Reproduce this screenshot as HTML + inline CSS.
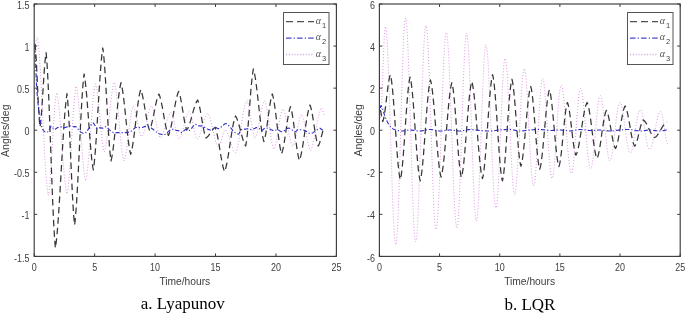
<!DOCTYPE html>
<html><head><meta charset="utf-8"><style>
html,body{margin:0;padding:0;background:#fff;width:685px;height:314px;overflow:hidden}
svg{display:block;filter:blur(0.3px)}
</style></head><body>
<svg width="685" height="314" viewBox="0 0 685 314">
<rect width="685" height="314" fill="#fff"/>
<path d="M35.00,44.00 L35.55,42.83 L36.10,40.60 L36.65,38.37 L37.20,37.20 L37.70,39.60 L38.21,43.19 L38.71,47.94 L39.22,53.79 L39.72,60.65 L40.23,68.42 L40.73,76.99 L41.24,86.20 L41.74,95.92 L42.25,105.97 L42.75,116.20 L43.25,126.43 L43.76,136.48 L44.26,146.20 L44.77,155.41 L45.27,163.98 L45.78,171.75 L46.28,178.61 L46.79,184.46 L47.29,189.21 L47.80,192.80 L48.30,195.20 L48.82,192.86 L49.34,189.07 L49.86,183.91 L50.38,177.52 L50.89,170.08 L51.41,161.83 L51.93,153.01 L52.45,143.90 L52.97,134.79 L53.49,125.97 L54.01,117.72 L54.52,110.28 L55.04,103.89 L55.56,98.73 L56.08,94.94 L56.60,92.60 L57.12,94.34 L57.64,97.00 L58.16,100.55 L58.68,104.93 L59.20,110.07 L59.72,115.88 L60.24,122.23 L60.76,129.01 L61.28,136.08 L61.80,143.30 L62.32,150.52 L62.84,157.59 L63.36,164.37 L63.88,170.72 L64.40,176.53 L64.92,181.67 L65.44,186.05 L65.96,189.60 L66.48,192.26 L67.00,194.00 L67.51,191.88 L68.02,188.56 L68.53,184.07 L69.04,178.52 L69.56,172.03 L70.07,164.75 L70.58,156.85 L71.09,148.53 L71.60,140.00 L72.11,131.47 L72.62,123.15 L73.13,115.25 L73.64,107.97 L74.16,101.48 L74.67,95.93 L75.18,91.44 L75.69,88.12 L76.20,86.00 L76.72,87.86 L77.24,90.78 L77.77,94.72 L78.29,99.60 L78.81,105.30 L79.33,111.70 L79.86,118.64 L80.38,125.95 L80.90,133.45 L81.42,140.95 L81.94,148.26 L82.47,155.20 L82.99,161.60 L83.51,167.30 L84.03,172.18 L84.56,176.12 L85.08,179.04 L85.60,180.90 L86.12,179.13 L86.64,176.37 L87.16,172.68 L87.68,168.11 L88.21,162.76 L88.73,156.74 L89.25,150.17 L89.77,143.21 L90.29,136.00 L90.81,128.70 L91.33,121.49 L91.85,114.53 L92.37,107.96 L92.89,101.94 L93.42,96.59 L93.94,92.02 L94.46,88.33 L94.98,85.57 L95.50,83.80 L96.02,85.24 L96.54,87.53 L97.05,90.64 L97.57,94.49 L98.09,98.98 L98.61,103.99 L99.12,109.40 L99.64,115.04 L100.16,120.76 L100.68,126.40 L101.19,131.81 L101.71,136.82 L102.23,141.31 L102.75,145.16 L103.26,148.27 L103.78,150.56 L104.30,152.00 L104.82,150.72 L105.34,148.74 L105.86,146.07 L106.38,142.78 L106.91,138.92 L107.43,134.58 L107.95,129.85 L108.47,124.83 L108.99,119.63 L109.51,114.37 L110.03,109.17 L110.55,104.15 L111.07,99.42 L111.59,95.08 L112.12,91.22 L112.64,87.93 L113.16,85.26 L113.68,83.28 L114.20,82.00 L114.72,83.44 L115.23,85.68 L115.75,88.69 L116.26,92.40 L116.78,96.76 L117.29,101.66 L117.81,107.00 L118.33,112.67 L118.84,118.53 L119.36,124.47 L119.87,130.33 L120.39,136.00 L120.91,141.34 L121.42,146.24 L121.94,150.60 L122.45,154.31 L122.97,157.32 L123.48,159.56 L124.00,161.00 L124.51,159.92 L125.01,158.22 L125.52,155.94 L126.02,153.10 L126.53,149.79 L127.03,146.08 L127.54,142.05 L128.04,137.80 L128.55,133.45 L129.06,129.10 L129.56,124.85 L130.07,120.82 L130.57,117.11 L131.08,113.80 L131.58,110.96 L132.09,108.68 L132.59,106.98 L133.10,105.90 L133.61,106.55 L134.11,107.59 L134.62,109.00 L135.12,110.74 L135.63,112.78 L136.14,115.05 L136.64,117.50 L137.15,120.05 L137.65,122.65 L138.16,125.20 L138.66,127.65 L139.17,129.92 L139.68,131.96 L140.18,133.70 L140.69,135.11 L141.19,136.15 L141.70,136.80 L142.22,136.24 L142.73,135.36 L143.25,134.18 L143.76,132.73 L144.28,131.03 L144.79,129.11 L145.31,127.02 L145.83,124.80 L146.34,122.51 L146.86,120.19 L147.37,117.90 L147.89,115.68 L148.41,113.59 L148.92,111.67 L149.44,109.97 L149.95,108.52 L150.47,107.34 L150.98,106.46 L151.50,105.90 L152.02,106.57 L152.55,107.65 L153.07,109.11 L153.59,110.91 L154.12,113.02 L154.64,115.37 L155.16,117.91 L155.69,120.56 L156.21,123.24 L156.74,125.89 L157.26,128.43 L157.78,130.78 L158.31,132.89 L158.83,134.69 L159.35,136.15 L159.88,137.23 L160.40,137.90 L160.92,137.46 L161.44,136.79 L161.96,135.90 L162.48,134.80 L163.00,133.51 L163.52,132.05 L164.04,130.45 L164.56,128.74 L165.08,126.96 L165.60,125.15 L166.12,123.34 L166.64,121.56 L167.16,119.85 L167.68,118.25 L168.20,116.79 L168.72,115.50 L169.24,114.40 L169.76,113.51 L170.28,112.84 L170.80,112.40 L171.31,113.01 L171.83,113.99 L172.34,115.33 L172.85,116.98 L173.36,118.91 L173.88,121.05 L174.39,123.34 L174.90,125.70 L175.41,128.06 L175.93,130.35 L176.44,132.49 L176.95,134.42 L177.46,136.07 L177.97,137.41 L178.49,138.39 L179.00,139.00 L179.51,138.53 L180.02,137.81 L180.53,136.84 L181.04,135.66 L181.55,134.26 L182.06,132.69 L182.57,130.96 L183.08,129.12 L183.59,127.21 L184.10,125.25 L184.61,123.29 L185.12,121.38 L185.63,119.54 L186.14,117.81 L186.65,116.24 L187.16,114.84 L187.67,113.66 L188.18,112.69 L188.69,111.97 L189.20,111.50 L189.71,112.14 L190.21,113.17 L190.72,114.57 L191.22,116.31 L191.73,118.33 L192.24,120.57 L192.74,122.97 L193.25,125.45 L193.76,127.93 L194.26,130.33 L194.77,132.57 L195.28,134.59 L195.78,136.33 L196.29,137.73 L196.79,138.76 L197.30,139.40 L197.81,138.95 L198.33,138.27 L198.84,137.35 L199.36,136.23 L199.88,134.90 L200.39,133.41 L200.91,131.77 L201.42,130.03 L201.94,128.21 L202.45,126.35 L202.97,124.49 L203.48,122.67 L204.00,120.93 L204.51,119.29 L205.03,117.80 L205.54,116.47 L206.06,115.35 L206.57,114.43 L207.09,113.75 L207.60,113.30 L208.11,113.85 L208.63,114.67 L209.14,115.77 L209.66,117.12 L210.17,118.71 L210.69,120.51 L211.20,122.48 L211.71,124.60 L212.23,126.82 L212.74,129.10 L213.26,131.40 L213.77,133.68 L214.29,135.90 L214.80,138.02 L215.31,139.99 L215.83,141.79 L216.34,143.38 L216.86,144.73 L217.37,145.83 L217.89,146.65 L218.40,147.20 L218.92,146.68 L219.45,145.78 L219.97,144.56 L220.49,143.04 L221.02,141.32 L221.54,139.45 L222.06,137.55 L222.58,135.68 L223.11,133.96 L223.63,132.44 L224.15,131.22 L224.68,130.32 L225.20,129.80 L225.71,130.19 L226.23,130.79 L226.75,131.59 L227.26,132.59 L227.77,133.75 L228.29,135.06 L228.80,136.49 L229.32,138.02 L229.83,139.62 L230.35,141.25 L230.87,142.88 L231.38,144.48 L231.89,146.01 L232.41,147.44 L232.93,148.75 L233.44,149.91 L233.95,150.91 L234.47,151.71 L234.99,152.31 L235.50,152.70 L236.01,151.91 L236.53,150.72 L237.04,149.16 L237.55,147.23 L238.07,144.97 L238.58,142.40 L239.10,139.58 L239.61,136.54 L240.12,133.34 L240.64,130.02 L241.15,126.65 L241.66,123.28 L242.18,119.96 L242.69,116.76 L243.20,113.72 L243.72,110.90 L244.23,108.33 L244.75,106.07 L245.26,104.14 L245.77,102.58 L246.29,101.39 L246.80,100.60 L247.31,101.46 L247.83,102.85 L248.34,104.75 L248.85,107.10 L249.36,109.83 L249.88,112.86 L250.39,116.10 L250.90,119.45 L251.41,122.80 L251.93,126.04 L252.44,129.07 L252.95,131.80 L253.46,134.15 L253.97,136.05 L254.49,137.44 L255.00,138.30 L255.50,137.61 L256.00,136.54 L256.50,135.11 L257.00,133.33 L257.50,131.26 L258.00,128.92 L258.50,126.37 L259.00,123.66 L259.50,120.87 L260.00,118.03 L260.50,115.24 L261.00,112.53 L261.50,109.98 L262.00,107.64 L262.50,105.57 L263.00,103.79 L263.50,102.36 L264.00,101.29 L264.50,100.60 L265.02,101.56 L265.54,103.06 L266.07,105.09 L266.59,107.59 L267.11,110.53 L267.63,113.82 L268.16,117.39 L268.68,121.14 L269.20,125.00 L269.72,128.86 L270.24,132.61 L270.77,136.18 L271.29,139.47 L271.81,142.41 L272.33,144.91 L272.86,146.94 L273.38,148.44 L273.90,149.40 L274.42,148.54 L274.94,147.18 L275.45,145.33 L275.97,143.04 L276.49,140.36 L277.01,137.38 L277.52,134.16 L278.04,130.80 L278.56,127.40 L279.08,124.04 L279.59,120.82 L280.11,117.84 L280.63,115.16 L281.15,112.87 L281.66,111.02 L282.18,109.66 L282.70,108.80 L283.20,109.44 L283.70,110.41 L284.20,111.72 L284.70,113.32 L285.20,115.21 L285.70,117.34 L286.20,119.67 L286.70,122.16 L287.20,124.75 L287.70,127.40 L288.20,130.05 L288.70,132.64 L289.20,135.13 L289.70,137.46 L290.20,139.59 L290.70,141.48 L291.20,143.08 L291.70,144.39 L292.20,145.36 L292.70,146.00 L293.22,145.33 L293.75,144.26 L294.27,142.82 L294.79,141.03 L295.32,138.95 L295.84,136.61 L296.36,134.10 L296.89,131.48 L297.41,128.82 L297.94,126.20 L298.46,123.69 L298.98,121.35 L299.51,119.27 L300.03,117.48 L300.55,116.04 L301.08,114.97 L301.60,114.30 L302.12,115.06 L302.65,116.28 L303.17,117.93 L303.69,119.97 L304.22,122.36 L304.74,125.02 L305.26,127.89 L305.79,130.88 L306.31,133.92 L306.84,136.91 L307.36,139.78 L307.88,142.44 L308.41,144.83 L308.93,146.87 L309.45,148.52 L309.98,149.74 L310.50,150.50 L311.00,149.85 L311.51,148.88 L312.01,147.59 L312.52,146.01 L313.02,144.15 L313.53,142.04 L314.03,139.72 L314.54,137.23 L315.04,134.59 L315.55,131.87 L316.05,129.10 L316.55,126.33 L317.06,123.61 L317.56,120.97 L318.07,118.48 L318.57,116.16 L319.08,114.05 L319.58,112.19 L320.09,110.61 L320.59,109.32 L321.10,108.35 L321.60,107.70 L322.18,108.71 L322.76,110.68 L323.34,113.02 L323.92,114.99 L324.50,116.00" fill="none" stroke="#de94e2" stroke-width="1.0" stroke-dasharray="1 2" stroke-linejoin="round"/>
<path d="M35.00,44.00 L35.50,48.85 L36.00,55.83 L36.50,64.61 L37.00,74.71 L37.50,85.50 L38.00,96.29 L38.50,106.39 L39.00,115.17 L39.50,122.15 L40.00,127.00 L40.51,123.51 L41.02,118.67 L41.52,112.62 L42.03,105.58 L42.54,97.85 L43.05,89.75 L43.56,81.65 L44.07,73.92 L44.58,66.88 L45.08,60.83 L45.59,55.99 L46.10,52.50 L46.62,58.20 L47.13,65.52 L47.65,74.37 L48.17,84.63 L48.68,96.14 L49.20,108.71 L49.72,122.09 L50.23,136.03 L50.75,150.25 L51.27,164.47 L51.78,178.41 L52.30,191.79 L52.82,204.36 L53.33,215.87 L53.85,226.13 L54.37,234.98 L54.88,242.30 L55.40,248.00 L55.90,244.59 L56.41,240.39 L56.91,235.43 L57.42,229.75 L57.92,223.39 L58.43,216.42 L58.93,208.91 L59.43,200.94 L59.94,192.61 L60.44,184.01 L60.95,175.26 L61.45,166.44 L61.96,157.69 L62.46,149.09 L62.97,140.76 L63.47,132.79 L63.97,125.28 L64.48,118.31 L64.98,111.95 L65.49,106.27 L65.99,101.31 L66.50,97.11 L67.00,93.70 L67.51,98.43 L68.01,104.70 L68.52,112.41 L69.03,121.40 L69.53,131.45 L70.04,142.28 L70.55,153.61 L71.05,165.09 L71.56,176.42 L72.07,187.25 L72.57,197.30 L73.08,206.29 L73.59,214.00 L74.09,220.27 L74.60,225.00 L75.10,220.86 L75.60,215.60 L76.10,209.27 L76.60,201.94 L77.10,193.72 L77.60,184.73 L78.10,175.12 L78.60,165.06 L79.10,154.72 L79.60,144.28 L80.10,133.94 L80.60,123.88 L81.10,114.27 L81.60,105.28 L82.10,97.06 L82.60,89.73 L83.10,83.40 L83.60,78.14 L84.10,74.00 L84.61,76.80 L85.12,80.39 L85.63,84.74 L86.14,89.78 L86.66,95.43 L87.17,101.60 L87.68,108.17 L88.19,115.02 L88.70,122.00 L89.21,128.98 L89.72,135.83 L90.23,142.40 L90.74,148.57 L91.26,154.22 L91.77,159.26 L92.28,163.61 L92.79,167.20 L93.30,170.00 L93.80,166.65 L94.30,162.40 L94.80,157.29 L95.30,151.37 L95.80,144.73 L96.30,137.46 L96.80,129.70 L97.30,121.57 L97.80,113.22 L98.30,104.78 L98.80,96.43 L99.30,88.30 L99.80,80.54 L100.30,73.27 L100.80,66.63 L101.30,60.71 L101.80,55.60 L102.30,51.35 L102.80,48.00 L103.31,51.78 L103.83,56.72 L104.34,62.77 L104.85,69.81 L105.36,77.70 L105.88,86.25 L106.39,95.26 L106.90,104.50 L107.41,113.74 L107.92,122.75 L108.44,131.30 L108.95,139.19 L109.46,146.23 L109.97,152.28 L110.49,157.22 L111.00,161.00 L111.50,158.97 L112.00,156.42 L112.50,153.37 L113.00,149.84 L113.50,145.88 L114.00,141.55 L114.50,136.91 L115.00,132.03 L115.50,126.98 L116.00,121.85 L116.50,116.72 L117.00,111.67 L117.50,106.79 L118.00,102.15 L118.50,97.82 L119.00,93.86 L119.50,90.33 L120.00,87.28 L120.50,84.73 L121.00,82.70 L121.51,84.66 L122.02,87.16 L122.53,90.16 L123.04,93.63 L123.55,97.53 L124.06,101.80 L124.57,106.35 L125.08,111.12 L125.59,116.03 L126.11,120.97 L126.62,125.88 L127.13,130.65 L127.64,135.20 L128.15,139.47 L128.66,143.37 L129.17,146.84 L129.68,149.84 L130.19,152.34 L130.70,154.30 L131.20,152.63 L131.70,150.52 L132.20,147.99 L132.70,145.08 L133.20,141.81 L133.70,138.23 L134.20,134.39 L134.70,130.36 L135.20,126.19 L135.70,121.95 L136.20,117.71 L136.70,113.54 L137.20,109.51 L137.70,105.67 L138.20,102.09 L138.70,98.82 L139.20,95.91 L139.70,93.38 L140.20,91.27 L140.70,89.60 L141.22,90.86 L141.74,92.49 L142.25,94.47 L142.77,96.78 L143.29,99.36 L143.81,102.17 L144.32,105.16 L144.84,108.24 L145.36,111.36 L145.88,114.44 L146.39,117.43 L146.91,120.24 L147.43,122.82 L147.95,125.13 L148.46,127.11 L148.98,128.74 L149.50,130.00 L150.02,128.95 L150.54,127.60 L151.07,125.97 L151.59,124.08 L152.11,121.96 L152.63,119.65 L153.16,117.19 L153.68,114.62 L154.20,112.00 L154.72,109.38 L155.24,106.81 L155.77,104.35 L156.29,102.04 L156.81,99.92 L157.33,98.03 L157.86,96.40 L158.38,95.05 L158.90,94.00 L159.40,95.14 L159.90,96.58 L160.40,98.32 L160.90,100.34 L161.40,102.60 L161.90,105.07 L162.40,107.71 L162.90,110.47 L163.40,113.32 L163.90,116.18 L164.40,119.03 L164.90,121.79 L165.40,124.43 L165.90,126.90 L166.40,129.16 L166.90,131.18 L167.40,132.92 L167.90,134.36 L168.40,135.50 L168.91,134.36 L169.43,132.92 L169.94,131.20 L170.46,129.21 L170.97,126.99 L171.49,124.55 L172.00,121.93 L172.52,119.18 L173.03,116.34 L173.55,113.45 L174.06,110.56 L174.58,107.72 L175.09,104.97 L175.61,102.35 L176.12,99.91 L176.64,97.69 L177.16,95.70 L177.67,93.98 L178.19,92.54 L178.70,91.40 L179.21,92.69 L179.71,94.38 L180.22,96.45 L180.72,98.85 L181.23,101.55 L181.74,104.47 L182.24,107.54 L182.75,110.70 L183.26,113.86 L183.76,116.93 L184.27,119.85 L184.78,122.55 L185.28,124.95 L185.79,127.02 L186.29,128.71 L186.80,130.00 L187.31,129.26 L187.83,128.35 L188.34,127.25 L188.86,126.00 L189.37,124.58 L189.89,123.04 L190.40,121.38 L190.91,119.62 L191.43,117.80 L191.94,115.94 L192.46,114.06 L192.97,112.20 L193.49,110.38 L194.00,108.62 L194.51,106.96 L195.03,105.42 L195.54,104.00 L196.06,102.75 L196.57,101.65 L197.09,100.74 L197.60,100.00 L198.12,101.27 L198.65,102.93 L199.17,104.97 L199.70,107.34 L200.22,109.99 L200.75,112.86 L201.28,115.89 L201.80,119.00 L202.32,122.11 L202.85,125.14 L203.38,128.01 L203.90,130.66 L204.43,133.03 L204.95,135.07 L205.47,136.73 L206.00,138.00 L206.51,137.69 L207.01,137.29 L207.52,136.81 L208.02,136.26 L208.53,135.63 L209.03,134.95 L209.54,134.23 L210.04,133.47 L210.55,132.70 L211.06,131.93 L211.56,131.17 L212.07,130.45 L212.57,129.77 L213.08,129.14 L213.58,128.59 L214.09,128.11 L214.59,127.71 L215.10,127.40 L215.60,128.61 L216.10,130.15 L216.60,132.01 L217.10,134.15 L217.60,136.56 L218.10,139.19 L218.60,142.00 L219.10,144.95 L219.60,147.97 L220.10,151.03 L220.60,154.05 L221.10,157.00 L221.60,159.81 L222.10,162.44 L222.60,164.85 L223.10,166.99 L223.60,168.85 L224.10,170.39 L224.60,171.60 L225.12,170.24 L225.64,168.54 L226.16,166.51 L226.68,164.18 L227.20,161.56 L227.71,158.69 L228.23,155.62 L228.75,152.36 L229.27,148.99 L229.79,145.54 L230.31,142.06 L230.83,138.61 L231.35,135.24 L231.87,131.99 L232.39,128.91 L232.90,126.04 L233.42,123.42 L233.94,121.09 L234.46,119.06 L234.98,117.36 L235.50,116.00 L236.01,116.78 L236.52,117.75 L237.03,118.92 L237.54,120.28 L238.05,121.79 L238.56,123.45 L239.07,125.23 L239.58,127.10 L240.09,129.03 L240.60,131.00 L241.11,132.97 L241.62,134.90 L242.13,136.77 L242.64,138.55 L243.15,140.21 L243.66,141.72 L244.17,143.08 L244.68,144.25 L245.19,145.22 L245.70,146.00 L246.21,143.22 L246.73,139.54 L247.24,135.01 L247.75,129.73 L248.27,123.83 L248.78,117.47 L249.29,110.82 L249.81,104.08 L250.32,97.43 L250.83,91.07 L251.35,85.17 L251.86,79.89 L252.37,75.36 L252.89,71.68 L253.40,68.90 L253.93,70.78 L254.45,73.15 L254.97,75.99 L255.50,79.26 L256.02,82.93 L256.55,86.96 L257.07,91.27 L257.60,95.80 L258.12,100.49 L258.65,105.25 L259.18,110.01 L259.70,114.70 L260.22,119.23 L260.75,123.54 L261.27,127.57 L261.80,131.24 L262.32,134.51 L262.85,137.35 L263.38,139.72 L263.90,141.60 L264.42,140.01 L264.95,137.92 L265.47,135.36 L266.00,132.39 L266.52,129.06 L267.05,125.45 L267.57,121.65 L268.10,117.75 L268.62,113.85 L269.15,110.05 L269.68,106.44 L270.20,103.11 L270.73,100.14 L271.25,97.58 L271.78,95.49 L272.30,93.90 L272.82,95.65 L273.33,97.89 L273.85,100.60 L274.37,103.74 L274.88,107.27 L275.40,111.12 L275.92,115.22 L276.43,119.49 L276.95,123.85 L277.47,128.21 L277.98,132.48 L278.50,136.58 L279.02,140.43 L279.53,143.96 L280.05,147.10 L280.57,149.81 L281.08,152.05 L281.60,153.80 L282.12,152.33 L282.65,150.42 L283.17,148.11 L283.69,145.41 L284.22,142.40 L284.74,139.11 L285.26,135.63 L285.79,132.02 L286.31,128.38 L286.84,124.77 L287.36,121.29 L287.88,118.00 L288.41,114.99 L288.93,112.29 L289.45,109.98 L289.98,108.07 L290.50,106.60 L291.02,108.28 L291.55,110.45 L292.07,113.10 L292.59,116.18 L293.12,119.62 L293.64,123.38 L294.16,127.35 L294.69,131.47 L295.21,135.63 L295.74,139.75 L296.26,143.72 L296.78,147.48 L297.31,150.92 L297.83,154.00 L298.35,156.65 L298.88,158.82 L299.40,160.50 L299.90,159.14 L300.41,157.44 L300.91,155.42 L301.42,153.09 L301.92,150.48 L302.43,147.62 L302.93,144.54 L303.44,141.30 L303.94,137.93 L304.45,134.49 L304.95,131.01 L305.46,127.57 L305.96,124.20 L306.47,120.96 L306.97,117.88 L307.48,115.02 L307.98,112.41 L308.49,110.08 L308.99,108.06 L309.50,106.36 L310.00,105.00 L310.51,106.37 L311.02,108.16 L311.54,110.36 L312.05,112.91 L312.56,115.78 L313.07,118.88 L313.59,122.15 L314.10,125.50 L314.61,128.85 L315.12,132.12 L315.64,135.22 L316.15,138.09 L316.66,140.64 L317.18,142.84 L317.69,144.63 L318.20,146.00 L318.72,145.14 L319.23,143.94 L319.75,142.45 L320.27,140.71 L320.78,138.80 L321.30,136.80 L321.82,134.80 L322.33,132.89 L322.85,131.15 L323.37,129.66 L323.88,128.46 L324.40,127.60" fill="none" stroke="#363636" stroke-width="1.25" stroke-dasharray="6.5 4" stroke-linejoin="round"/>
<path d="M35.20,45.00 L35.42,55.00 L35.80,68.00 L36.11,75.93 L36.48,83.96 L37.00,92.00 L37.35,96.16 L37.76,100.52 L38.20,104.88 L38.66,109.04 L39.10,112.81 L39.50,116.00 L39.93,118.98 L40.34,121.27 L40.72,123.07 L41.11,124.58 L41.50,126.00 L41.89,127.30 L42.28,128.33 L42.66,129.16 L43.07,129.86 L43.50,130.50 L43.89,130.98 L44.31,131.39 L44.75,131.72 L45.19,131.98 L45.61,132.17 L46.00,132.30 L46.41,132.41 L46.77,132.46 L47.13,132.40 L47.52,132.17 L48.00,131.70 L48.41,131.11 L48.86,130.26 L49.34,129.27 L49.85,128.26 L50.35,127.36 L50.84,126.66 L51.30,126.30 L51.80,126.39 L52.27,126.92 L52.74,127.68 L53.20,128.49 L53.69,129.16 L54.20,129.50 L54.61,129.50 L55.03,129.36 L55.46,129.11 L55.89,128.79 L56.34,128.45 L56.79,128.11 L57.24,127.81 L57.70,127.60 L58.16,127.45 L58.64,127.31 L59.13,127.19 L59.62,127.09 L60.11,127.01 L60.59,126.95 L61.05,126.91 L61.50,126.90 L61.97,126.95 L62.39,127.07 L62.78,127.22 L63.19,127.39 L63.62,127.53 L64.12,127.61 L64.70,127.60 L65.09,127.54 L65.53,127.44 L65.99,127.30 L66.49,127.14 L66.99,126.97 L67.51,126.79 L68.03,126.61 L68.55,126.43 L69.05,126.28 L69.53,126.15 L69.98,126.05 L70.40,126.00 L70.98,126.00 L71.53,126.07 L72.05,126.20 L72.54,126.36 L73.00,126.53 L73.44,126.69 L73.83,126.82 L74.20,126.90 L74.73,126.82 L75.06,126.59 L75.41,126.48 L76.00,126.80 L76.34,127.12 L76.73,127.55 L77.15,128.07 L77.61,128.65 L78.09,129.26 L78.58,129.88 L79.07,130.49 L79.56,131.04 L80.04,131.52 L80.50,131.90 L81.00,132.24 L81.50,132.56 L82.00,132.83 L82.50,133.06 L82.99,133.23 L83.48,133.34 L83.96,133.37 L84.44,133.33 L84.90,133.20 L85.40,132.92 L85.89,132.51 L86.36,131.99 L86.83,131.39 L87.29,130.73 L87.76,130.05 L88.22,129.36 L88.70,128.70 L89.19,127.99 L89.70,127.16 L90.22,126.29 L90.73,125.41 L91.24,124.58 L91.72,123.87 L92.18,123.32 L92.60,123.00 L93.11,122.95 L93.58,123.25 L94.01,123.78 L94.41,124.43 L94.77,125.07 L95.10,125.60 L95.53,126.58 L95.83,127.56 L96.40,128.20 L96.76,128.29 L97.20,128.29 L97.69,128.24 L98.22,128.14 L98.75,128.03 L99.28,127.92 L99.77,127.84 L100.20,127.80 L100.70,127.83 L101.14,127.91 L101.54,128.01 L101.94,128.09 L102.35,128.13 L102.80,128.10 L103.20,127.95 L103.61,127.70 L104.02,127.39 L104.45,127.08 L104.90,126.85 L105.38,126.73 L105.90,126.80 L106.30,126.98 L106.72,127.26 L107.17,127.61 L107.63,128.02 L108.11,128.47 L108.58,128.94 L109.06,129.41 L109.52,129.85 L109.97,130.26 L110.40,130.60 L110.91,130.98 L111.42,131.34 L111.91,131.69 L112.39,132.01 L112.86,132.29 L113.32,132.54 L113.76,132.75 L114.20,132.90 L114.66,132.99 L115.06,133.00 L115.44,132.94 L115.83,132.84 L116.25,132.74 L116.73,132.65 L117.30,132.60 L117.68,132.59 L118.10,132.59 L118.54,132.59 L119.01,132.59 L119.49,132.59 L119.99,132.60 L120.49,132.61 L121.00,132.61 L121.51,132.61 L122.02,132.61 L122.52,132.61 L123.00,132.60 L123.48,132.59 L123.97,132.59 L124.47,132.59 L124.97,132.59 L125.47,132.59 L125.96,132.59 L126.45,132.57 L126.93,132.55 L127.40,132.52 L127.85,132.46 L128.29,132.39 L128.70,132.30 L129.28,132.12 L129.82,131.89 L130.33,131.63 L130.81,131.34 L131.28,131.03 L131.72,130.72 L132.16,130.40 L132.60,130.10 L133.06,129.74 L133.47,129.33 L133.84,128.92 L134.22,128.51 L134.64,128.14 L135.12,127.83 L135.70,127.60 L136.09,127.52 L136.53,127.47 L136.99,127.45 L137.48,127.46 L137.99,127.49 L138.51,127.52 L139.04,127.57 L139.56,127.60 L140.08,127.63 L140.58,127.65 L141.05,127.64 L141.50,127.60 L142.00,127.51 L142.48,127.38 L142.95,127.22 L143.40,127.05 L143.84,126.87 L144.27,126.70 L144.70,126.54 L145.13,126.41 L145.56,126.33 L146.00,126.30 L146.49,126.32 L146.98,126.38 L147.47,126.47 L147.96,126.60 L148.44,126.76 L148.93,126.94 L149.42,127.14 L149.91,127.36 L150.40,127.60 L150.85,127.84 L151.32,128.11 L151.79,128.42 L152.26,128.74 L152.74,129.07 L153.20,129.42 L153.66,129.76 L154.09,130.09 L154.51,130.41 L154.90,130.70 L155.39,131.10 L155.82,131.49 L156.21,131.88 L156.59,132.24 L156.98,132.59 L157.41,132.91 L157.90,133.20 L158.30,133.39 L158.72,133.57 L159.18,133.73 L159.65,133.89 L160.14,134.04 L160.62,134.17 L161.10,134.28 L161.56,134.37 L162.00,134.45 L162.40,134.50 L162.92,134.55 L163.39,134.57 L163.83,134.56 L164.25,134.51 L164.68,134.41 L165.12,134.24 L165.60,134.00 L166.05,133.70 L166.52,133.30 L167.01,132.84 L167.50,132.34 L167.99,131.84 L168.48,131.36 L168.95,130.94 L169.40,130.60 L169.89,130.29 L170.36,130.04 L170.82,129.82 L171.27,129.65 L171.71,129.53 L172.15,129.44 L172.60,129.40 L173.04,129.42 L173.47,129.51 L173.89,129.65 L174.32,129.82 L174.76,130.00 L175.22,130.16 L175.70,130.30 L176.16,130.39 L176.65,130.47 L177.17,130.54 L177.69,130.61 L178.20,130.68 L178.70,130.77 L179.17,130.87 L179.60,131.00 L180.09,131.27 L180.51,131.63 L180.89,132.02 L181.27,132.37 L181.66,132.58 L182.10,132.60 L182.52,132.39 L182.95,131.99 L183.39,131.47 L183.85,130.91 L184.32,130.38 L184.81,129.95 L185.30,129.70 L185.75,129.66 L186.22,129.75 L186.71,129.93 L187.20,130.16 L187.69,130.39 L188.18,130.57 L188.65,130.65 L189.10,130.60 L189.59,130.37 L190.08,130.01 L190.54,129.56 L191.00,129.05 L191.45,128.51 L191.88,127.98 L192.30,127.50 L192.76,126.92 L193.17,126.27 L193.58,125.61 L193.98,125.02 L194.42,124.56 L194.90,124.30 L195.30,124.27 L195.72,124.37 L196.16,124.57 L196.62,124.83 L197.08,125.12 L197.56,125.40 L198.03,125.64 L198.50,125.80 L198.96,125.88 L199.43,125.90 L199.89,125.89 L200.36,125.86 L200.84,125.85 L201.33,125.87 L201.85,125.95 L202.40,126.10 L202.82,126.27 L203.27,126.50 L203.74,126.76 L204.22,127.05 L204.71,127.36 L205.20,127.67 L205.69,127.98 L206.17,128.28 L206.64,128.56 L207.08,128.80 L207.50,129.00 L208.04,129.23 L208.54,129.45 L209.02,129.63 L209.48,129.79 L209.93,129.90 L210.38,129.96 L210.83,129.96 L211.30,129.90 L211.78,129.72 L212.25,129.43 L212.73,129.05 L213.20,128.63 L213.68,128.22 L214.15,127.84 L214.63,127.56 L215.10,127.40 L215.57,127.40 L216.05,127.54 L216.52,127.77 L216.99,128.04 L217.47,128.30 L217.94,128.52 L218.42,128.63 L218.90,128.60 L219.39,128.41 L219.89,128.10 L220.39,127.70 L220.89,127.24 L221.39,126.76 L221.88,126.29 L222.35,125.86 L222.80,125.50 L223.29,125.13 L223.76,124.76 L224.21,124.40 L224.65,124.09 L225.07,123.83 L225.49,123.66 L225.90,123.60 L226.36,123.68 L226.78,123.89 L227.19,124.21 L227.61,124.61 L228.04,125.05 L228.50,125.50 L228.93,125.92 L229.39,126.40 L229.87,126.91 L230.35,127.45 L230.82,127.99 L231.27,128.51 L231.70,129.00 L232.14,129.54 L232.52,130.07 L232.88,130.59 L233.26,131.09 L233.69,131.56 L234.20,132.00 L234.61,132.30 L235.07,132.63 L235.56,132.97 L236.08,133.30 L236.61,133.59 L237.13,133.83 L237.62,133.99 L238.09,134.06 L238.50,134.00 L239.01,133.62 L239.42,132.93 L239.79,132.07 L240.16,131.17 L240.58,130.37 L241.10,129.80 L241.48,129.59 L241.90,129.43 L242.35,129.32 L242.83,129.25 L243.32,129.21 L243.81,129.18 L244.29,129.17 L244.76,129.16 L245.20,129.14 L245.60,129.10 L246.12,129.03 L246.60,128.96 L247.05,128.89 L247.48,128.84 L247.89,128.80 L248.30,128.79 L248.70,128.80 L249.16,128.88 L249.58,129.02 L249.99,129.19 L250.41,129.36 L250.84,129.47 L251.30,129.50 L251.74,129.45 L252.21,129.34 L252.70,129.19 L253.19,129.01 L253.66,128.83 L254.11,128.65 L254.50,128.50 L255.04,128.22 L255.45,127.91 L255.86,127.67 L256.40,127.60 L256.80,127.66 L257.26,127.77 L257.75,127.93 L258.25,128.13 L258.74,128.34 L259.20,128.57 L259.60,128.80 L260.15,129.31 L260.59,129.94 L261.01,130.48 L261.50,130.70 L261.89,130.59 L262.31,130.31 L262.75,129.92 L263.19,129.50 L263.61,129.10 L264.00,128.80 L264.49,128.46 L264.91,128.18 L265.35,127.98 L265.90,127.90 L266.27,127.93 L266.66,128.00 L267.08,128.11 L267.53,128.25 L268.01,128.42 L268.53,128.60 L269.10,128.80 L269.50,128.95 L269.94,129.13 L270.41,129.33 L270.90,129.54 L271.40,129.77 L271.91,129.98 L272.41,130.19 L272.90,130.37 L273.37,130.52 L273.80,130.64 L274.20,130.70 L274.73,130.67 L275.17,130.51 L275.56,130.27 L275.94,130.00 L276.33,129.76 L276.77,129.61 L277.30,129.60 L277.69,129.70 L278.12,129.87 L278.58,130.10 L279.06,130.37 L279.56,130.66 L280.06,130.96 L280.56,131.24 L281.05,131.48 L281.52,131.67 L281.98,131.78 L282.40,131.80 L282.94,131.67 L283.45,131.38 L283.93,130.98 L284.40,130.53 L284.85,130.04 L285.30,129.58 L285.75,129.19 L286.20,128.90 L286.65,128.69 L287.10,128.52 L287.53,128.37 L287.97,128.27 L288.40,128.20 L288.83,128.19 L289.26,128.22 L289.70,128.30 L290.14,128.47 L290.60,128.73 L291.06,129.05 L291.51,129.42 L291.96,129.79 L292.40,130.15 L292.81,130.46 L293.20,130.70 L293.67,130.95 L294.10,131.16 L294.51,131.32 L294.90,131.42 L295.29,131.45 L295.70,131.40 L296.11,131.20 L296.49,130.87 L296.88,130.46 L297.30,130.04 L297.76,129.70 L298.30,129.50 L298.72,129.46 L299.19,129.47 L299.70,129.51 L300.23,129.60 L300.77,129.70 L301.30,129.81 L301.81,129.92 L302.28,130.02 L302.70,130.10 L303.23,130.18 L303.68,130.24 L304.07,130.29 L304.46,130.37 L304.85,130.50 L305.30,130.70 L305.73,130.96 L306.17,131.29 L306.63,131.67 L307.10,132.07 L307.57,132.44 L308.04,132.76 L308.50,133.00 L308.96,133.17 L309.42,133.30 L309.88,133.38 L310.34,133.43 L310.79,133.43 L311.25,133.39 L311.70,133.30 L312.15,133.15 L312.59,132.93 L313.03,132.66 L313.47,132.36 L313.91,132.04 L314.35,131.71 L314.80,131.40 L315.26,131.08 L315.74,130.73 L316.23,130.37 L316.71,130.01 L317.18,129.67 L317.61,129.36 L318.00,129.10 L318.56,128.72 L319.02,128.41 L319.44,128.22 L319.90,128.20 L320.31,128.38 L320.73,128.73 L321.16,129.14 L321.58,129.53 L322.00,129.80 L322.44,129.93 L322.90,129.99 L323.35,130.00 L323.73,130.00 L324.00,130.00" fill="none" stroke="#3030c8" stroke-width="1.15" stroke-dasharray="4.2 2 1.2 2" stroke-linejoin="round"/>
<path d="M380.30,118.00 L380.81,115.76 L381.32,109.26 L381.83,99.14 L382.34,86.39 L382.85,72.25 L383.36,58.11 L383.87,45.36 L384.38,35.24 L384.89,28.74 L385.40,26.50 L385.92,27.85 L386.44,31.85 L386.96,38.41 L387.48,47.36 L388.00,58.50 L388.52,71.53 L389.04,86.15 L389.56,101.99 L390.08,118.66 L390.60,135.75 L391.12,152.84 L391.64,169.51 L392.16,185.35 L392.68,199.97 L393.20,213.00 L393.72,224.14 L394.24,233.09 L394.76,239.65 L395.28,243.65 L395.80,245.00 L396.31,243.45 L396.82,238.85 L397.33,231.32 L397.84,221.07 L398.35,208.37 L398.86,193.58 L399.37,177.09 L399.88,159.36 L400.39,140.87 L400.91,122.13 L401.42,103.64 L401.93,85.91 L402.44,69.42 L402.95,54.63 L403.46,41.93 L403.97,31.68 L404.48,24.15 L404.99,19.55 L405.50,18.00 L406.01,19.38 L406.52,23.48 L407.03,30.21 L407.54,39.39 L408.05,50.80 L408.56,64.17 L409.07,79.15 L409.58,95.39 L410.09,112.48 L410.60,130.00 L411.11,147.52 L411.62,164.61 L412.13,180.85 L412.64,195.83 L413.15,209.20 L413.66,220.61 L414.17,229.79 L414.68,236.52 L415.19,240.62 L415.70,242.00 L416.21,240.67 L416.72,236.70 L417.23,230.20 L417.74,221.33 L418.25,210.29 L418.76,197.38 L419.27,182.89 L419.78,167.20 L420.29,150.68 L420.80,133.75 L421.31,116.82 L421.82,100.30 L422.33,84.61 L422.84,70.12 L423.35,57.21 L423.86,46.17 L424.37,37.30 L424.88,30.80 L425.39,26.83 L425.90,25.50 L426.41,26.76 L426.92,30.49 L427.43,36.62 L427.94,44.99 L428.45,55.39 L428.96,67.57 L429.47,81.22 L429.98,96.01 L430.49,111.59 L431.00,127.55 L431.51,143.51 L432.02,159.09 L432.53,173.88 L433.04,187.53 L433.55,199.71 L434.06,210.11 L434.57,218.48 L435.08,224.61 L435.59,228.34 L436.10,229.60 L436.61,228.39 L437.12,224.77 L437.63,218.85 L438.14,210.76 L438.65,200.71 L439.16,188.94 L439.67,175.74 L440.18,161.43 L440.69,146.38 L441.20,130.95 L441.71,115.52 L442.22,100.47 L442.73,86.16 L443.24,72.96 L443.75,61.19 L444.26,51.14 L444.77,43.05 L445.28,37.13 L445.79,33.51 L446.30,32.30 L446.80,33.39 L447.31,36.65 L447.81,41.99 L448.32,49.30 L448.82,58.42 L449.33,69.14 L449.83,81.22 L450.34,94.40 L450.84,108.38 L451.35,122.84 L451.85,137.46 L452.36,151.92 L452.86,165.90 L453.37,179.07 L453.87,191.16 L454.38,201.88 L454.88,211.00 L455.39,218.31 L455.89,223.65 L456.40,226.91 L456.90,228.00 L457.41,226.67 L457.92,222.72 L458.43,216.25 L458.94,207.44 L459.45,196.53 L459.96,183.83 L460.47,169.67 L460.98,154.43 L461.49,138.55 L462.01,122.45 L462.52,106.57 L463.03,91.33 L463.54,77.17 L464.05,64.47 L464.56,53.56 L465.07,44.75 L465.58,38.28 L466.09,34.33 L466.60,33.00 L467.12,34.28 L467.63,38.10 L468.15,44.34 L468.66,52.84 L469.18,63.37 L469.69,75.63 L470.21,89.30 L470.73,104.00 L471.24,119.33 L471.76,134.87 L472.27,150.20 L472.79,164.90 L473.31,178.57 L473.82,190.83 L474.34,201.36 L474.85,209.86 L475.37,216.10 L475.88,219.92 L476.40,221.20 L476.90,220.00 L477.40,216.42 L477.90,210.56 L478.40,202.59 L478.90,192.72 L479.40,181.22 L479.90,168.40 L480.40,154.61 L480.90,140.24 L481.40,125.66 L481.90,111.29 L482.40,97.50 L482.90,84.68 L483.40,73.18 L483.90,63.31 L484.40,55.34 L484.90,49.48 L485.40,45.90 L485.90,44.70 L486.40,45.71 L486.91,48.70 L487.41,53.60 L487.92,60.30 L488.42,68.63 L488.93,78.38 L489.44,89.31 L489.94,101.15 L490.44,113.62 L490.95,126.40 L491.45,139.18 L491.96,151.65 L492.46,163.49 L492.97,174.42 L493.48,184.17 L493.98,192.50 L494.49,199.20 L494.99,204.10 L495.50,207.09 L496.00,208.10 L496.51,206.96 L497.01,203.58 L497.52,198.07 L498.02,190.58 L498.53,181.34 L499.03,170.65 L499.54,158.82 L500.04,146.21 L500.55,133.20 L501.06,120.19 L501.56,107.58 L502.07,95.75 L502.57,85.06 L503.08,75.82 L503.58,68.33 L504.09,62.82 L504.59,59.44 L505.10,58.30 L505.60,59.23 L506.10,61.99 L506.60,66.51 L507.10,72.66 L507.60,80.28 L508.10,89.15 L508.60,99.04 L509.10,109.68 L509.60,120.78 L510.10,132.02 L510.60,143.12 L511.10,153.76 L511.60,163.65 L512.10,172.52 L512.60,180.14 L513.10,186.29 L513.60,190.81 L514.10,193.57 L514.60,194.50 L515.11,193.64 L515.62,191.09 L516.13,186.91 L516.64,181.22 L517.15,174.17 L517.66,165.96 L518.17,156.81 L518.68,146.97 L519.19,136.70 L519.71,126.30 L520.22,116.03 L520.73,106.19 L521.24,97.04 L521.75,88.83 L522.26,81.78 L522.77,76.09 L523.28,71.91 L523.79,69.36 L524.30,68.50 L524.82,69.39 L525.33,72.04 L525.85,76.37 L526.37,82.24 L526.88,89.49 L527.40,97.88 L527.92,107.16 L528.43,117.05 L528.95,127.25 L529.47,137.45 L529.98,147.34 L530.50,156.62 L531.02,165.01 L531.53,172.26 L532.05,178.13 L532.57,182.46 L533.08,185.11 L533.60,186.00 L534.10,185.18 L534.60,182.76 L535.10,178.80 L535.60,173.42 L536.10,166.80 L536.60,159.12 L537.10,150.63 L537.60,141.58 L538.10,132.25 L538.60,122.92 L539.10,113.87 L539.60,105.38 L540.10,97.70 L540.60,91.08 L541.10,85.70 L541.60,81.74 L542.10,79.32 L542.60,78.50 L543.10,79.18 L543.60,81.21 L544.10,84.53 L544.60,89.04 L545.10,94.64 L545.60,101.15 L546.10,108.42 L546.60,116.23 L547.10,124.37 L547.60,132.63 L548.10,140.77 L548.60,148.58 L549.10,155.85 L549.60,162.36 L550.10,167.96 L550.60,172.47 L551.10,175.79 L551.60,177.82 L552.10,178.50 L552.61,177.79 L553.11,175.69 L553.62,172.25 L554.12,167.59 L554.63,161.84 L555.13,155.18 L555.64,147.81 L556.14,139.95 L556.65,131.85 L557.16,123.75 L557.66,115.89 L558.17,108.53 L558.67,101.86 L559.18,96.11 L559.68,91.45 L560.19,88.01 L560.69,85.91 L561.20,85.20 L561.71,85.74 L562.22,87.36 L562.73,90.01 L563.24,93.63 L563.75,98.13 L564.26,103.40 L564.77,109.31 L565.28,115.71 L565.79,122.44 L566.30,129.35 L566.81,136.26 L567.32,142.99 L567.83,149.39 L568.34,155.30 L568.85,160.57 L569.36,165.07 L569.87,168.69 L570.38,171.34 L570.89,172.96 L571.40,173.50 L571.91,172.85 L572.42,170.93 L572.93,167.80 L573.44,163.55 L573.96,158.30 L574.47,152.22 L574.98,145.50 L575.49,138.34 L576.00,130.95 L576.51,123.56 L577.02,116.40 L577.53,109.68 L578.04,103.60 L578.56,98.35 L579.07,94.10 L579.58,90.97 L580.09,89.05 L580.60,88.40 L581.10,88.89 L581.60,90.37 L582.10,92.78 L582.60,96.07 L583.10,100.16 L583.60,104.95 L584.10,110.32 L584.60,116.14 L585.10,122.27 L585.60,128.55 L586.10,134.83 L586.60,140.96 L587.10,146.78 L587.60,152.15 L588.10,156.94 L588.60,161.03 L589.10,164.32 L589.60,166.73 L590.10,168.21 L590.60,168.70 L591.11,168.20 L591.62,166.72 L592.13,164.29 L592.64,160.99 L593.15,156.90 L593.66,152.14 L594.17,146.83 L594.68,141.12 L595.19,135.17 L595.71,129.13 L596.22,123.18 L596.73,117.47 L597.24,112.16 L597.75,107.40 L598.26,103.31 L598.77,100.01 L599.28,97.58 L599.79,96.10 L600.30,95.60 L600.80,96.05 L601.30,97.37 L601.80,99.54 L602.30,102.48 L602.80,106.14 L603.30,110.39 L603.80,115.13 L604.30,120.23 L604.80,125.55 L605.30,130.95 L605.80,136.27 L606.30,141.37 L606.80,146.11 L607.30,150.36 L607.80,154.02 L608.30,156.96 L608.80,159.13 L609.30,160.45 L609.80,160.90 L610.31,160.54 L610.82,159.47 L611.33,157.71 L611.84,155.30 L612.35,152.32 L612.86,148.82 L613.37,144.90 L613.88,140.65 L614.39,136.18 L614.90,131.60 L615.41,127.02 L615.92,122.55 L616.43,118.30 L616.94,114.38 L617.45,110.88 L617.96,107.90 L618.47,105.49 L618.98,103.73 L619.49,102.66 L620.00,102.30 L620.51,102.61 L621.02,103.54 L621.53,105.06 L622.04,107.14 L622.55,109.72 L623.06,112.75 L623.57,116.14 L624.08,119.82 L624.59,123.68 L625.10,127.65 L625.61,131.62 L626.12,135.48 L626.63,139.16 L627.14,142.55 L627.65,145.58 L628.16,148.16 L628.67,150.24 L629.18,151.76 L629.69,152.69 L630.20,153.00 L630.71,152.73 L631.21,151.94 L631.72,150.63 L632.22,148.86 L632.73,146.64 L633.23,144.05 L633.74,141.15 L634.24,138.01 L634.75,134.69 L635.25,131.30 L635.75,127.91 L636.26,124.59 L636.76,121.45 L637.27,118.55 L637.77,115.96 L638.28,113.74 L638.78,111.97 L639.29,110.66 L639.79,109.87 L640.30,109.60 L640.81,109.90 L641.31,110.81 L641.82,112.28 L642.32,114.28 L642.83,116.74 L643.33,119.60 L643.84,122.76 L644.34,126.13 L644.85,129.60 L645.36,133.07 L645.86,136.44 L646.37,139.60 L646.87,142.46 L647.38,144.92 L647.88,146.92 L648.39,148.39 L648.89,149.30 L649.40,149.60 L649.91,149.41 L650.43,148.83 L650.94,147.88 L651.45,146.58 L651.97,144.95 L652.48,143.03 L653.00,140.85 L653.51,138.46 L654.02,135.92 L654.54,133.26 L655.05,130.55 L655.56,127.84 L656.08,125.18 L656.59,122.64 L657.10,120.25 L657.62,118.07 L658.13,116.15 L658.65,114.52 L659.16,113.22 L659.67,112.27 L660.19,111.69 L660.70,111.50 L661.22,111.91 L661.74,113.11 L662.26,115.05 L662.79,117.62 L663.31,120.70 L663.83,124.13 L664.35,127.75 L664.87,131.37 L665.39,134.80 L665.91,137.88 L666.44,140.45 L666.96,142.39 L667.48,143.59 L668.00,144.00" fill="none" stroke="#de94e2" stroke-width="1.0" stroke-dasharray="1 2" stroke-linejoin="round"/>
<path d="M380.30,110.00 L380.90,112.06 L381.50,115.80 L382.10,119.54 L382.70,121.60 L383.21,120.30 L383.73,118.30 L384.24,115.65 L384.75,112.42 L385.27,108.70 L385.78,104.63 L386.29,100.33 L386.81,95.97 L387.32,91.67 L387.83,87.60 L388.35,83.88 L388.86,80.65 L389.37,78.00 L389.89,76.00 L390.40,74.70 L390.92,76.86 L391.44,80.01 L391.96,84.11 L392.48,89.09 L393.01,94.87 L393.53,101.32 L394.05,108.32 L394.57,115.73 L395.09,123.38 L395.61,131.12 L396.13,138.77 L396.65,146.18 L397.17,153.18 L397.69,159.63 L398.22,165.41 L398.74,170.39 L399.26,174.49 L399.78,177.64 L400.30,179.80 L400.82,177.69 L401.33,174.60 L401.85,170.59 L402.36,165.72 L402.88,160.07 L403.39,153.76 L403.91,146.91 L404.43,139.67 L404.94,132.18 L405.46,124.62 L405.97,117.13 L406.49,109.89 L407.01,103.04 L407.52,96.73 L408.04,91.08 L408.55,86.21 L409.07,82.20 L409.58,79.11 L410.10,77.00 L410.61,79.01 L411.11,81.90 L411.62,85.64 L412.12,90.18 L412.62,95.44 L413.13,101.34 L413.63,107.77 L414.14,114.60 L414.64,121.70 L415.15,128.95 L415.66,136.20 L416.16,143.30 L416.67,150.13 L417.17,156.56 L417.68,162.46 L418.18,167.72 L418.69,172.26 L419.19,176.00 L419.69,178.89 L420.20,180.90 L420.71,178.95 L421.22,176.14 L421.73,172.50 L422.24,168.09 L422.75,162.97 L423.26,157.24 L423.77,150.99 L424.28,144.35 L424.79,137.44 L425.30,130.40 L425.81,123.36 L426.32,116.45 L426.83,109.81 L427.34,103.56 L427.85,97.83 L428.36,92.71 L428.87,88.30 L429.38,84.66 L429.89,81.85 L430.40,79.90 L430.91,81.67 L431.42,84.19 L431.93,87.43 L432.44,91.37 L432.95,95.92 L433.46,101.04 L433.97,106.63 L434.48,112.60 L434.99,118.85 L435.50,125.26 L436.00,131.74 L436.51,138.15 L437.02,144.40 L437.53,150.37 L438.04,155.96 L438.55,161.08 L439.06,165.63 L439.57,169.57 L440.08,172.81 L440.59,175.33 L441.10,177.10 L441.61,175.38 L442.13,172.93 L442.64,169.77 L443.16,165.95 L443.67,161.52 L444.19,156.55 L444.70,151.11 L445.21,145.31 L445.73,139.23 L446.24,133.00 L446.76,126.70 L447.27,120.47 L447.79,114.39 L448.30,108.59 L448.81,103.15 L449.33,98.18 L449.84,93.75 L450.36,89.93 L450.87,86.77 L451.39,84.32 L451.90,82.60 L452.40,84.55 L452.90,87.40 L453.40,91.10 L453.90,95.60 L454.40,100.81 L454.90,106.64 L455.40,112.96 L455.90,119.65 L456.40,126.56 L456.90,133.54 L457.40,140.45 L457.90,147.14 L458.40,153.46 L458.90,159.29 L459.40,164.50 L459.90,169.00 L460.40,172.70 L460.90,175.55 L461.40,177.50 L461.92,175.65 L462.44,172.98 L462.96,169.52 L463.48,165.32 L464.00,160.46 L464.52,155.01 L465.04,149.07 L465.56,142.76 L466.08,136.20 L466.60,129.50 L467.12,122.80 L467.64,116.24 L468.16,109.93 L468.68,103.99 L469.20,98.54 L469.72,93.68 L470.24,89.48 L470.76,86.02 L471.28,83.35 L471.80,81.50 L472.31,83.27 L472.82,85.78 L473.33,89.03 L473.84,92.95 L474.35,97.51 L474.86,102.62 L475.37,108.20 L475.88,114.17 L476.39,120.41 L476.90,126.82 L477.40,133.28 L477.91,139.69 L478.42,145.93 L478.93,151.90 L479.44,157.48 L479.95,162.59 L480.46,167.15 L480.97,171.07 L481.48,174.32 L481.99,176.83 L482.50,178.60 L483.00,176.59 L483.51,173.70 L484.01,169.96 L484.52,165.42 L485.02,160.16 L485.53,154.26 L486.04,147.83 L486.54,141.00 L487.05,133.90 L487.55,126.65 L488.06,119.40 L488.56,112.30 L489.06,105.47 L489.57,99.04 L490.08,93.14 L490.58,87.88 L491.09,83.34 L491.59,79.60 L492.10,76.71 L492.60,74.70 L493.12,76.88 L493.63,80.07 L494.15,84.21 L494.66,89.25 L495.18,95.08 L495.69,101.60 L496.21,108.68 L496.73,116.16 L497.24,123.89 L497.76,131.71 L498.27,139.44 L498.79,146.92 L499.31,154.00 L499.82,160.52 L500.34,166.35 L500.85,171.39 L501.37,175.53 L501.88,178.72 L502.40,180.90 L502.90,178.81 L503.40,175.76 L503.90,171.79 L504.40,166.97 L504.90,161.38 L505.40,155.14 L505.90,148.36 L506.40,141.20 L506.90,133.79 L507.40,126.31 L507.90,118.90 L508.40,111.74 L508.90,104.96 L509.40,98.72 L509.90,93.13 L510.40,88.31 L510.90,84.34 L511.40,81.29 L511.90,79.20 L512.40,81.11 L512.90,83.94 L513.40,87.63 L513.90,92.12 L514.40,97.33 L514.90,103.12 L515.40,109.39 L515.90,115.96 L516.40,122.70 L516.90,129.44 L517.40,136.01 L517.90,142.27 L518.40,148.07 L518.90,153.28 L519.40,157.77 L519.90,161.46 L520.40,164.29 L520.90,166.20 L521.42,164.56 L521.93,162.17 L522.45,159.05 L522.96,155.27 L523.48,150.89 L523.99,145.99 L524.51,140.67 L525.03,135.05 L525.54,129.24 L526.06,123.36 L526.57,117.55 L527.09,111.93 L527.61,106.61 L528.12,101.71 L528.64,97.33 L529.15,93.55 L529.67,90.43 L530.18,88.04 L530.70,86.40 L531.20,88.22 L531.70,90.91 L532.20,94.43 L532.70,98.71 L533.20,103.67 L533.70,109.20 L534.20,115.16 L534.70,121.43 L535.20,127.85 L535.70,134.27 L536.20,140.54 L536.70,146.50 L537.20,152.03 L537.70,156.99 L538.20,161.27 L538.70,164.79 L539.20,167.48 L539.70,169.30 L540.21,167.67 L540.72,165.28 L541.23,162.18 L541.74,158.41 L542.25,154.04 L542.76,149.16 L543.27,143.87 L543.78,138.26 L544.29,132.48 L544.81,126.62 L545.32,120.84 L545.83,115.23 L546.34,109.94 L546.85,105.06 L547.36,100.69 L547.87,96.92 L548.38,93.82 L548.89,91.43 L549.40,89.80 L549.90,91.38 L550.40,93.68 L550.90,96.68 L551.40,100.32 L551.90,104.54 L552.40,109.25 L552.90,114.37 L553.40,119.78 L553.90,125.37 L554.40,131.03 L554.90,136.62 L555.40,142.03 L555.90,147.15 L556.40,151.86 L556.90,156.08 L557.40,159.72 L557.90,162.72 L558.40,165.02 L558.90,166.60 L559.40,165.09 L559.90,162.82 L560.40,159.85 L560.90,156.22 L561.40,152.03 L561.90,147.38 L562.40,142.39 L562.90,137.19 L563.40,131.91 L563.90,126.71 L564.40,121.72 L564.90,117.07 L565.40,112.88 L565.90,109.25 L566.40,106.28 L566.90,104.01 L567.40,102.50 L567.90,103.74 L568.40,105.61 L568.90,108.05 L569.40,111.03 L569.90,114.48 L570.40,118.30 L570.90,122.41 L571.40,126.68 L571.90,131.02 L572.40,135.29 L572.90,139.40 L573.40,143.22 L573.90,146.67 L574.40,149.65 L574.90,152.09 L575.40,153.96 L575.90,155.20 L576.41,154.29 L576.92,153.02 L577.43,151.38 L577.94,149.40 L578.45,147.10 L578.95,144.52 L579.46,141.70 L579.97,138.67 L580.48,135.48 L580.99,132.19 L581.50,128.85 L582.01,125.51 L582.52,122.22 L583.03,119.03 L583.54,116.00 L584.05,113.18 L584.55,110.60 L585.06,108.30 L585.57,106.32 L586.08,104.68 L586.59,103.41 L587.10,102.50 L587.62,103.65 L588.14,105.34 L588.66,107.52 L589.18,110.18 L589.71,113.27 L590.23,116.71 L590.75,120.45 L591.27,124.40 L591.79,128.49 L592.31,132.61 L592.83,136.70 L593.35,140.65 L593.87,144.39 L594.39,147.83 L594.92,150.92 L595.44,153.58 L595.96,155.76 L596.48,157.45 L597.00,158.60 L597.52,157.54 L598.04,155.98 L598.57,153.93 L599.09,151.44 L599.61,148.56 L600.13,145.34 L600.66,141.88 L601.18,138.23 L601.70,134.50 L602.22,130.77 L602.74,127.12 L603.27,123.66 L603.79,120.44 L604.31,117.56 L604.83,115.07 L605.36,113.02 L605.88,111.46 L606.40,110.40 L606.91,111.24 L607.41,112.47 L607.92,114.09 L608.42,116.06 L608.93,118.34 L609.43,120.88 L609.94,123.62 L610.44,126.50 L610.95,129.45 L611.46,132.40 L611.96,135.28 L612.47,138.02 L612.97,140.56 L613.48,142.84 L613.98,144.81 L614.49,146.43 L614.99,147.66 L615.50,148.50 L616.01,147.63 L616.51,146.35 L617.02,144.69 L617.52,142.68 L618.03,140.34 L618.53,137.73 L619.04,134.90 L619.54,131.91 L620.05,128.81 L620.55,125.69 L621.06,122.59 L621.56,119.60 L622.07,116.77 L622.57,114.16 L623.08,111.82 L623.58,109.81 L624.09,108.15 L624.59,106.87 L625.10,106.00 L625.61,106.83 L626.11,108.03 L626.62,109.60 L627.12,111.51 L627.63,113.71 L628.13,116.18 L628.64,118.86 L629.14,121.69 L629.65,124.62 L630.15,127.58 L630.66,130.51 L631.16,133.34 L631.67,136.02 L632.17,138.49 L632.68,140.69 L633.18,142.60 L633.69,144.17 L634.19,145.37 L634.70,146.20 L635.20,145.58 L635.70,144.66 L636.20,143.44 L636.70,141.96 L637.20,140.24 L637.70,138.34 L638.20,136.30 L638.70,134.18 L639.20,132.02 L639.70,129.90 L640.20,127.86 L640.70,125.96 L641.20,124.24 L641.70,122.76 L642.20,121.54 L642.70,120.62 L643.20,120.00 L643.72,120.30 L644.24,120.73 L644.75,121.27 L645.27,121.93 L645.79,122.69 L646.31,123.55 L646.83,124.48 L647.35,125.49 L647.86,126.55 L648.38,127.64 L648.90,128.75 L649.42,129.86 L649.94,130.95 L650.45,132.01 L650.97,133.02 L651.49,133.95 L652.01,134.81 L652.53,135.57 L653.05,136.23 L653.56,136.77 L654.08,137.20 L654.60,137.50 L655.12,137.26 L655.63,136.92 L656.15,136.49 L656.67,135.98 L657.18,135.38 L657.70,134.71 L658.22,133.98 L658.73,133.18 L659.25,132.34 L659.77,131.46 L660.28,130.56 L660.80,129.65 L661.32,128.74 L661.83,127.84 L662.35,126.96 L662.87,126.12 L663.38,125.32 L663.90,124.59 L664.42,123.92 L664.93,123.32 L665.45,122.81 L665.97,122.38 L666.48,122.04 L667.00,121.80" fill="none" stroke="#363636" stroke-width="1.25" stroke-dasharray="6.5 4" stroke-linejoin="round"/>
<path d="M380.30,108.00 L380.53,106.47 L381.00,105.50 L381.32,105.92 L381.71,106.70 L382.14,107.72 L382.58,108.86 L383.00,110.00 L383.38,111.17 L383.75,112.46 L384.13,113.80 L384.54,115.17 L385.00,116.50 L385.37,117.44 L385.76,118.40 L386.16,119.36 L386.59,120.32 L387.04,121.25 L387.51,122.15 L388.00,123.00 L388.40,123.64 L388.82,124.27 L389.26,124.89 L389.71,125.49 L390.17,126.07 L390.63,126.61 L391.09,127.12 L391.55,127.58 L392.00,128.00 L392.43,128.36 L392.85,128.67 L393.26,128.93 L393.67,129.15 L394.09,129.34 L394.52,129.52 L394.98,129.68 L395.47,129.84 L396.00,130.00 L396.39,130.12 L396.79,130.23 L397.21,130.34 L397.63,130.45 L398.07,130.55 L398.52,130.64 L398.98,130.73 L399.46,130.81 L399.94,130.87 L400.44,130.93 L400.95,130.97 L401.47,130.99 L402.00,131.00 L402.42,130.99 L402.84,130.96 L403.27,130.92 L403.70,130.86 L404.15,130.79 L404.60,130.71 L405.05,130.63 L405.52,130.54 L405.99,130.46 L406.46,130.37 L406.95,130.29 L407.44,130.21 L407.94,130.14 L408.44,130.08 L408.96,130.04 L409.47,130.01 L410.00,130.00 L410.43,130.01 L410.87,130.03 L411.32,130.06 L411.78,130.10 L412.24,130.15 L412.71,130.21 L413.19,130.28 L413.66,130.35 L414.15,130.42 L414.63,130.49 L415.12,130.57 L415.61,130.64 L416.10,130.71 L416.59,130.78 L417.08,130.84 L417.58,130.89 L418.07,130.94 L418.55,130.97 L419.04,130.99 L419.52,131.00 L420.00,131.00 L420.48,130.98 L420.95,130.94 L421.43,130.89 L421.90,130.83 L422.38,130.75 L422.86,130.67 L423.33,130.57 L423.81,130.48 L424.29,130.37 L424.76,130.27 L425.24,130.17 L425.71,130.06 L426.19,129.96 L426.67,129.87 L427.14,129.78 L427.62,129.70 L428.10,129.64 L428.57,129.58 L429.05,129.54 L429.52,129.51 L430.00,129.50 L430.48,129.51 L430.95,129.54 L431.43,129.58 L431.90,129.64 L432.38,129.70 L432.86,129.78 L433.33,129.87 L433.81,129.96 L434.29,130.06 L434.76,130.17 L435.24,130.27 L435.71,130.37 L436.19,130.48 L436.67,130.57 L437.14,130.67 L437.62,130.75 L438.10,130.83 L438.57,130.89 L439.05,130.94 L439.52,130.98 L440.00,131.00 L440.48,131.00 L440.95,130.99 L441.43,130.97 L441.90,130.94 L442.38,130.89 L442.86,130.84 L443.33,130.78 L443.81,130.71 L444.29,130.64 L444.76,130.57 L445.24,130.49 L445.71,130.42 L446.19,130.35 L446.67,130.28 L447.14,130.21 L447.62,130.15 L448.10,130.10 L448.57,130.06 L449.05,130.03 L449.52,130.01 L450.00,130.00 L450.48,130.01 L450.95,130.03 L451.43,130.06 L451.90,130.10 L452.38,130.15 L452.86,130.21 L453.33,130.28 L453.81,130.35 L454.29,130.42 L454.76,130.49 L455.24,130.57 L455.71,130.64 L456.19,130.71 L456.67,130.78 L457.14,130.84 L457.62,130.89 L458.10,130.94 L458.57,130.97 L459.05,130.99 L459.52,131.00 L460.00,131.00 L460.48,130.98 L460.95,130.94 L461.43,130.90 L461.90,130.83 L462.38,130.76 L462.86,130.68 L463.33,130.59 L463.81,130.50 L464.29,130.40 L464.76,130.30 L465.24,130.20 L465.71,130.10 L466.19,130.00 L466.67,129.91 L467.14,129.82 L467.62,129.74 L468.10,129.67 L468.57,129.60 L469.05,129.56 L469.52,129.52 L470.00,129.50 L470.48,129.49 L470.95,129.50 L471.43,129.52 L471.90,129.54 L472.38,129.58 L472.86,129.62 L473.33,129.67 L473.81,129.72 L474.29,129.78 L474.76,129.84 L475.24,129.91 L475.71,129.98 L476.19,130.04 L476.67,130.11 L477.14,130.18 L477.62,130.24 L478.10,130.30 L478.57,130.36 L479.05,130.41 L479.52,130.46 L480.00,130.50 L480.48,130.54 L480.95,130.57 L481.43,130.61 L481.90,130.65 L482.38,130.69 L482.86,130.72 L483.33,130.76 L483.81,130.79 L484.29,130.83 L484.76,130.86 L485.24,130.89 L485.71,130.92 L486.19,130.94 L486.67,130.96 L487.14,130.98 L487.62,131.00 L488.10,131.01 L488.57,131.01 L489.05,131.01 L489.52,131.01 L490.00,131.00 L490.48,130.98 L490.95,130.96 L491.43,130.93 L491.90,130.90 L492.38,130.85 L492.86,130.81 L493.33,130.76 L493.81,130.71 L494.29,130.65 L494.76,130.59 L495.24,130.53 L495.71,130.47 L496.19,130.41 L496.67,130.35 L497.14,130.29 L497.62,130.24 L498.10,130.18 L498.57,130.13 L499.05,130.08 L499.52,130.04 L500.00,130.00 L500.48,129.96 L500.95,129.92 L501.43,129.88 L501.90,129.84 L502.38,129.80 L502.86,129.76 L503.33,129.72 L503.81,129.68 L504.29,129.65 L504.76,129.61 L505.24,129.58 L505.71,129.55 L506.19,129.52 L506.67,129.50 L507.14,129.48 L507.62,129.47 L508.10,129.46 L508.57,129.46 L509.05,129.47 L509.52,129.48 L510.00,129.50 L510.48,129.53 L510.95,129.58 L511.43,129.63 L511.90,129.70 L512.38,129.77 L512.86,129.86 L513.33,129.94 L513.81,130.04 L514.29,130.13 L514.76,130.23 L515.24,130.33 L515.71,130.43 L516.19,130.52 L516.67,130.61 L517.14,130.70 L517.62,130.77 L518.10,130.84 L518.57,130.90 L519.05,130.95 L519.52,130.98 L520.00,131.00 L520.48,131.01 L520.95,131.00 L521.43,130.98 L521.90,130.96 L522.38,130.92 L522.86,130.88 L523.33,130.83 L523.81,130.78 L524.29,130.72 L524.76,130.66 L525.24,130.59 L525.71,130.52 L526.19,130.46 L526.67,130.39 L527.14,130.32 L527.62,130.26 L528.10,130.20 L528.57,130.14 L529.05,130.09 L529.52,130.04 L530.00,130.00 L530.48,129.96 L530.95,129.93 L531.43,129.89 L531.90,129.85 L532.38,129.81 L532.86,129.78 L533.33,129.74 L533.81,129.71 L534.29,129.67 L534.76,129.64 L535.24,129.61 L535.71,129.58 L536.19,129.56 L536.67,129.54 L537.14,129.52 L537.62,129.50 L538.10,129.49 L538.57,129.49 L539.05,129.49 L539.52,129.49 L540.00,129.50 L540.48,129.52 L540.95,129.54 L541.43,129.58 L541.90,129.62 L542.38,129.67 L542.86,129.72 L543.33,129.78 L543.81,129.84 L544.29,129.90 L544.76,129.97 L545.24,130.03 L545.71,130.10 L546.19,130.16 L546.67,130.22 L547.14,130.28 L547.62,130.33 L548.10,130.38 L548.57,130.42 L549.05,130.46 L549.52,130.48 L550.00,130.50 L550.48,130.51 L550.95,130.50 L551.43,130.49 L551.90,130.48 L552.38,130.45 L552.86,130.42 L553.33,130.39 L553.81,130.35 L554.29,130.31 L554.76,130.27 L555.24,130.23 L555.71,130.19 L556.19,130.15 L556.67,130.11 L557.14,130.08 L557.62,130.05 L558.10,130.02 L558.57,130.01 L559.05,130.00 L559.52,129.99 L560.00,130.00 L560.48,130.02 L560.95,130.05 L561.43,130.09 L561.90,130.13 L562.38,130.19 L562.86,130.25 L563.33,130.31 L563.81,130.38 L564.29,130.45 L564.76,130.53 L565.24,130.60 L565.71,130.67 L566.19,130.73 L566.67,130.80 L567.14,130.85 L567.62,130.90 L568.10,130.94 L568.57,130.98 L569.05,131.00 L569.52,131.00 L570.00,131.00 L570.48,130.98 L570.95,130.94 L571.43,130.90 L571.90,130.83 L572.38,130.76 L572.86,130.68 L573.33,130.59 L573.81,130.50 L574.29,130.40 L574.76,130.30 L575.24,130.20 L575.71,130.10 L576.19,130.00 L576.67,129.91 L577.14,129.82 L577.62,129.74 L578.10,129.67 L578.57,129.60 L579.05,129.56 L579.52,129.52 L580.00,129.50 L580.48,129.50 L580.95,129.50 L581.43,129.52 L581.90,129.56 L582.38,129.60 L582.86,129.65 L583.33,129.70 L583.81,129.77 L584.29,129.83 L584.76,129.90 L585.24,129.97 L585.71,130.05 L586.19,130.12 L586.67,130.19 L587.14,130.25 L587.62,130.31 L588.10,130.37 L588.57,130.41 L589.05,130.45 L589.52,130.48 L590.00,130.50 L590.48,130.51 L590.95,130.50 L591.43,130.49 L591.90,130.48 L592.38,130.45 L592.86,130.42 L593.33,130.39 L593.81,130.35 L594.29,130.31 L594.76,130.27 L595.24,130.23 L595.71,130.19 L596.19,130.15 L596.67,130.11 L597.14,130.08 L597.62,130.05 L598.10,130.02 L598.57,130.01 L599.05,130.00 L599.52,129.99 L600.00,130.00 L600.48,130.02 L600.95,130.04 L601.43,130.08 L601.90,130.13 L602.38,130.18 L602.86,130.23 L603.33,130.30 L603.81,130.36 L604.29,130.43 L604.76,130.50 L605.24,130.57 L605.71,130.63 L606.19,130.70 L606.67,130.76 L607.14,130.82 L607.62,130.87 L608.10,130.91 L608.57,130.95 L609.05,130.98 L609.52,130.99 L610.00,131.00 L610.48,131.00 L610.95,130.98 L611.43,130.96 L611.90,130.93 L612.38,130.89 L612.86,130.85 L613.33,130.80 L613.81,130.74 L614.29,130.69 L614.76,130.62 L615.24,130.56 L615.71,130.50 L616.19,130.43 L616.67,130.37 L617.14,130.31 L617.62,130.25 L618.10,130.19 L618.57,130.13 L619.05,130.08 L619.52,130.04 L620.00,130.00 L620.48,129.96 L620.95,129.92 L621.43,129.88 L621.90,129.84 L622.38,129.80 L622.86,129.76 L623.33,129.72 L623.81,129.68 L624.29,129.65 L624.76,129.61 L625.24,129.58 L625.71,129.55 L626.19,129.52 L626.67,129.50 L627.14,129.48 L627.62,129.47 L628.10,129.46 L628.57,129.46 L629.05,129.47 L629.52,129.48 L630.00,129.50 L630.48,129.53 L630.95,129.58 L631.43,129.63 L631.90,129.70 L632.38,129.77 L632.86,129.86 L633.33,129.94 L633.81,130.04 L634.29,130.13 L634.76,130.23 L635.24,130.33 L635.71,130.43 L636.19,130.52 L636.67,130.61 L637.14,130.70 L637.62,130.77 L638.10,130.84 L638.57,130.90 L639.05,130.95 L639.52,130.98 L640.00,131.00 L640.48,131.00 L640.95,130.99 L641.43,130.97 L641.90,130.94 L642.38,130.89 L642.86,130.84 L643.33,130.78 L643.81,130.71 L644.29,130.64 L644.76,130.57 L645.24,130.49 L645.71,130.42 L646.19,130.35 L646.67,130.28 L647.14,130.21 L647.62,130.15 L648.10,130.10 L648.57,130.06 L649.05,130.03 L649.52,130.01 L650.00,130.00 L650.48,130.01 L650.96,130.03 L651.45,130.06 L651.93,130.10 L652.42,130.15 L652.92,130.21 L653.41,130.28 L653.90,130.35 L654.39,130.42 L654.88,130.49 L655.37,130.57 L655.85,130.64 L656.34,130.71 L656.81,130.78 L657.29,130.84 L657.76,130.89 L658.22,130.94 L658.68,130.97 L659.13,130.99 L659.57,131.00 L660.00,131.00 L660.54,130.97 L661.08,130.93 L661.63,130.87 L662.19,130.79 L662.74,130.70 L663.29,130.59 L663.84,130.49 L664.37,130.37 L664.88,130.25 L665.38,130.14 L665.85,130.02 L666.29,129.91 L666.71,129.80 L667.09,129.71 L667.44,129.62 L667.74,129.55 L668.00,129.50" fill="none" stroke="#3030c8" stroke-width="1.15" stroke-dasharray="4.2 2 1.2 2" stroke-linejoin="round"/>
<rect x="34.2" y="4.0" width="302.2" height="252.39999999999998" fill="none" stroke="#3c3c3c" stroke-width="1.15"/>
<line x1="34.2" y1="256.4" x2="34.2" y2="253.39999999999998" stroke="#3c3c3c" stroke-width="1"/>
<line x1="34.2" y1="4.0" x2="34.2" y2="7.0" stroke="#3c3c3c" stroke-width="1"/>
<line x1="94.64" y1="256.4" x2="94.64" y2="253.39999999999998" stroke="#3c3c3c" stroke-width="1"/>
<line x1="94.64" y1="4.0" x2="94.64" y2="7.0" stroke="#3c3c3c" stroke-width="1"/>
<line x1="155.07999999999998" y1="256.4" x2="155.07999999999998" y2="253.39999999999998" stroke="#3c3c3c" stroke-width="1"/>
<line x1="155.07999999999998" y1="4.0" x2="155.07999999999998" y2="7.0" stroke="#3c3c3c" stroke-width="1"/>
<line x1="215.51999999999998" y1="256.4" x2="215.51999999999998" y2="253.39999999999998" stroke="#3c3c3c" stroke-width="1"/>
<line x1="215.51999999999998" y1="4.0" x2="215.51999999999998" y2="7.0" stroke="#3c3c3c" stroke-width="1"/>
<line x1="275.96" y1="256.4" x2="275.96" y2="253.39999999999998" stroke="#3c3c3c" stroke-width="1"/>
<line x1="275.96" y1="4.0" x2="275.96" y2="7.0" stroke="#3c3c3c" stroke-width="1"/>
<line x1="336.4" y1="256.4" x2="336.4" y2="253.39999999999998" stroke="#3c3c3c" stroke-width="1"/>
<line x1="336.4" y1="4.0" x2="336.4" y2="7.0" stroke="#3c3c3c" stroke-width="1"/>
<line x1="34.2" y1="4.0" x2="37.2" y2="4.0" stroke="#3c3c3c" stroke-width="1"/>
<line x1="336.4" y1="4.0" x2="333.4" y2="4.0" stroke="#3c3c3c" stroke-width="1"/>
<line x1="34.2" y1="46.07" x2="37.2" y2="46.07" stroke="#3c3c3c" stroke-width="1"/>
<line x1="336.4" y1="46.07" x2="333.4" y2="46.07" stroke="#3c3c3c" stroke-width="1"/>
<line x1="34.2" y1="88.14" x2="37.2" y2="88.14" stroke="#3c3c3c" stroke-width="1"/>
<line x1="336.4" y1="88.14" x2="333.4" y2="88.14" stroke="#3c3c3c" stroke-width="1"/>
<line x1="34.2" y1="130.21" x2="37.2" y2="130.21" stroke="#3c3c3c" stroke-width="1"/>
<line x1="336.4" y1="130.21" x2="333.4" y2="130.21" stroke="#3c3c3c" stroke-width="1"/>
<line x1="34.2" y1="172.28" x2="37.2" y2="172.28" stroke="#3c3c3c" stroke-width="1"/>
<line x1="336.4" y1="172.28" x2="333.4" y2="172.28" stroke="#3c3c3c" stroke-width="1"/>
<line x1="34.2" y1="214.35" x2="37.2" y2="214.35" stroke="#3c3c3c" stroke-width="1"/>
<line x1="336.4" y1="214.35" x2="333.4" y2="214.35" stroke="#3c3c3c" stroke-width="1"/>
<line x1="34.2" y1="256.42" x2="37.2" y2="256.42" stroke="#3c3c3c" stroke-width="1"/>
<line x1="336.4" y1="256.42" x2="333.4" y2="256.42" stroke="#3c3c3c" stroke-width="1"/>
<rect x="379.4" y="4.0" width="300.80000000000007" height="252.39999999999998" fill="none" stroke="#3c3c3c" stroke-width="1.15"/>
<line x1="379.4" y1="256.4" x2="379.4" y2="253.39999999999998" stroke="#3c3c3c" stroke-width="1"/>
<line x1="379.4" y1="4.0" x2="379.4" y2="7.0" stroke="#3c3c3c" stroke-width="1"/>
<line x1="439.56" y1="256.4" x2="439.56" y2="253.39999999999998" stroke="#3c3c3c" stroke-width="1"/>
<line x1="439.56" y1="4.0" x2="439.56" y2="7.0" stroke="#3c3c3c" stroke-width="1"/>
<line x1="499.72" y1="256.4" x2="499.72" y2="253.39999999999998" stroke="#3c3c3c" stroke-width="1"/>
<line x1="499.72" y1="4.0" x2="499.72" y2="7.0" stroke="#3c3c3c" stroke-width="1"/>
<line x1="559.88" y1="256.4" x2="559.88" y2="253.39999999999998" stroke="#3c3c3c" stroke-width="1"/>
<line x1="559.88" y1="4.0" x2="559.88" y2="7.0" stroke="#3c3c3c" stroke-width="1"/>
<line x1="620.0400000000001" y1="256.4" x2="620.0400000000001" y2="253.39999999999998" stroke="#3c3c3c" stroke-width="1"/>
<line x1="620.0400000000001" y1="4.0" x2="620.0400000000001" y2="7.0" stroke="#3c3c3c" stroke-width="1"/>
<line x1="680.2" y1="256.4" x2="680.2" y2="253.39999999999998" stroke="#3c3c3c" stroke-width="1"/>
<line x1="680.2" y1="4.0" x2="680.2" y2="7.0" stroke="#3c3c3c" stroke-width="1"/>
<line x1="379.4" y1="4.0" x2="382.4" y2="4.0" stroke="#3c3c3c" stroke-width="1"/>
<line x1="680.2" y1="4.0" x2="677.2" y2="4.0" stroke="#3c3c3c" stroke-width="1"/>
<line x1="379.4" y1="46.07" x2="382.4" y2="46.07" stroke="#3c3c3c" stroke-width="1"/>
<line x1="680.2" y1="46.07" x2="677.2" y2="46.07" stroke="#3c3c3c" stroke-width="1"/>
<line x1="379.4" y1="88.14" x2="382.4" y2="88.14" stroke="#3c3c3c" stroke-width="1"/>
<line x1="680.2" y1="88.14" x2="677.2" y2="88.14" stroke="#3c3c3c" stroke-width="1"/>
<line x1="379.4" y1="130.21" x2="382.4" y2="130.21" stroke="#3c3c3c" stroke-width="1"/>
<line x1="680.2" y1="130.21" x2="677.2" y2="130.21" stroke="#3c3c3c" stroke-width="1"/>
<line x1="379.4" y1="172.28" x2="382.4" y2="172.28" stroke="#3c3c3c" stroke-width="1"/>
<line x1="680.2" y1="172.28" x2="677.2" y2="172.28" stroke="#3c3c3c" stroke-width="1"/>
<line x1="379.4" y1="214.35" x2="382.4" y2="214.35" stroke="#3c3c3c" stroke-width="1"/>
<line x1="680.2" y1="214.35" x2="677.2" y2="214.35" stroke="#3c3c3c" stroke-width="1"/>
<line x1="379.4" y1="256.42" x2="382.4" y2="256.42" stroke="#3c3c3c" stroke-width="1"/>
<line x1="680.2" y1="256.42" x2="677.2" y2="256.42" stroke="#3c3c3c" stroke-width="1"/>
<rect x="283.5" y="12.5" width="45.5" height="52" fill="#fff" stroke="#555" stroke-width="1"/>
<line x1="286.0" y1="21.7" x2="314.0" y2="21.7" stroke="#505050" stroke-width="1.2" stroke-dasharray="7 4"/>
<text x="315.8" y="23.7" font-family="Liberation Serif" font-style="italic" font-size="10" fill="#555">&#945;</text>
<text x="322.1" y="27.799999999999997" font-family="Liberation Sans" font-size="7.5" fill="#444">1</text>
<line x1="286.0" y1="38.099999999999994" x2="314.0" y2="38.099999999999994" stroke="#4848d0" stroke-width="1.1" stroke-dasharray="5.5 2.2 1.2 2.2"/>
<text x="315.8" y="40.099999999999994" font-family="Liberation Serif" font-style="italic" font-size="10" fill="#555">&#945;</text>
<text x="322.1" y="44.199999999999996" font-family="Liberation Sans" font-size="7.5" fill="#444">2</text>
<line x1="286.0" y1="54.5" x2="314.0" y2="54.5" stroke="#d6b4e6" stroke-width="1.3" stroke-dasharray="1.2 1.6"/>
<text x="315.8" y="56.5" font-family="Liberation Serif" font-style="italic" font-size="10" fill="#555">&#945;</text>
<text x="322.1" y="60.6" font-family="Liberation Sans" font-size="7.5" fill="#444">3</text>
<rect x="627.5" y="12.5" width="45.5" height="52" fill="#fff" stroke="#555" stroke-width="1"/>
<line x1="630.0" y1="21.7" x2="658.0" y2="21.7" stroke="#505050" stroke-width="1.2" stroke-dasharray="7 4"/>
<text x="659.8" y="23.7" font-family="Liberation Serif" font-style="italic" font-size="10" fill="#555">&#945;</text>
<text x="666.1" y="27.799999999999997" font-family="Liberation Sans" font-size="7.5" fill="#444">1</text>
<line x1="630.0" y1="38.099999999999994" x2="658.0" y2="38.099999999999994" stroke="#4848d0" stroke-width="1.1" stroke-dasharray="5.5 2.2 1.2 2.2"/>
<text x="659.8" y="40.099999999999994" font-family="Liberation Serif" font-style="italic" font-size="10" fill="#555">&#945;</text>
<text x="666.1" y="44.199999999999996" font-family="Liberation Sans" font-size="7.5" fill="#444">2</text>
<line x1="630.0" y1="54.5" x2="658.0" y2="54.5" stroke="#d6b4e6" stroke-width="1.3" stroke-dasharray="1.2 1.6"/>
<text x="659.8" y="56.5" font-family="Liberation Serif" font-style="italic" font-size="10" fill="#555">&#945;</text>
<text x="666.1" y="60.6" font-family="Liberation Sans" font-size="7.5" fill="#444">3</text>
<text transform="translate(34.2,271.4) scale(0.83,1)" text-anchor="middle" font-family="Liberation Sans" font-size="10.8" fill="#3d3d3d" >0</text>
<text transform="translate(379.4,271.4) scale(0.83,1)" text-anchor="middle" font-family="Liberation Sans" font-size="10.8" fill="#3d3d3d" >0</text>
<text transform="translate(94.64,271.4) scale(0.83,1)" text-anchor="middle" font-family="Liberation Sans" font-size="10.8" fill="#3d3d3d" >5</text>
<text transform="translate(439.56,271.4) scale(0.83,1)" text-anchor="middle" font-family="Liberation Sans" font-size="10.8" fill="#3d3d3d" >5</text>
<text transform="translate(155.07999999999998,271.4) scale(0.83,1)" text-anchor="middle" font-family="Liberation Sans" font-size="10.8" fill="#3d3d3d" >10</text>
<text transform="translate(499.72,271.4) scale(0.83,1)" text-anchor="middle" font-family="Liberation Sans" font-size="10.8" fill="#3d3d3d" >10</text>
<text transform="translate(215.51999999999998,271.4) scale(0.83,1)" text-anchor="middle" font-family="Liberation Sans" font-size="10.8" fill="#3d3d3d" >15</text>
<text transform="translate(559.88,271.4) scale(0.83,1)" text-anchor="middle" font-family="Liberation Sans" font-size="10.8" fill="#3d3d3d" >15</text>
<text transform="translate(275.96,271.4) scale(0.83,1)" text-anchor="middle" font-family="Liberation Sans" font-size="10.8" fill="#3d3d3d" >20</text>
<text transform="translate(620.0400000000001,271.4) scale(0.83,1)" text-anchor="middle" font-family="Liberation Sans" font-size="10.8" fill="#3d3d3d" >20</text>
<text transform="translate(336.4,271.4) scale(0.83,1)" text-anchor="middle" font-family="Liberation Sans" font-size="10.8" fill="#3d3d3d" >25</text>
<text transform="translate(680.2,271.4) scale(0.83,1)" text-anchor="middle" font-family="Liberation Sans" font-size="10.8" fill="#3d3d3d" >25</text>
<text transform="translate(29.5,9.1) scale(0.83,1)" text-anchor="end" font-family="Liberation Sans" font-size="10.8" fill="#3d3d3d" >1.5</text>
<text transform="translate(29.5,51.17) scale(0.83,1)" text-anchor="end" font-family="Liberation Sans" font-size="10.8" fill="#3d3d3d" >1</text>
<text transform="translate(29.5,93.24) scale(0.83,1)" text-anchor="end" font-family="Liberation Sans" font-size="10.8" fill="#3d3d3d" >0.5</text>
<text transform="translate(29.5,135.31) scale(0.83,1)" text-anchor="end" font-family="Liberation Sans" font-size="10.8" fill="#3d3d3d" >0</text>
<text transform="translate(29.5,177.38) scale(0.83,1)" text-anchor="end" font-family="Liberation Sans" font-size="10.8" fill="#3d3d3d" >-0.5</text>
<text transform="translate(29.5,219.45) scale(0.83,1)" text-anchor="end" font-family="Liberation Sans" font-size="10.8" fill="#3d3d3d" >-1</text>
<text transform="translate(29.5,261.52000000000004) scale(0.83,1)" text-anchor="end" font-family="Liberation Sans" font-size="10.8" fill="#3d3d3d" >-1.5</text>
<text transform="translate(375,9.1) scale(0.83,1)" text-anchor="end" font-family="Liberation Sans" font-size="10.8" fill="#3d3d3d" >6</text>
<text transform="translate(375,51.17) scale(0.83,1)" text-anchor="end" font-family="Liberation Sans" font-size="10.8" fill="#3d3d3d" >4</text>
<text transform="translate(375,93.24) scale(0.83,1)" text-anchor="end" font-family="Liberation Sans" font-size="10.8" fill="#3d3d3d" >2</text>
<text transform="translate(375,135.31) scale(0.83,1)" text-anchor="end" font-family="Liberation Sans" font-size="10.8" fill="#3d3d3d" >0</text>
<text transform="translate(375,177.38) scale(0.83,1)" text-anchor="end" font-family="Liberation Sans" font-size="10.8" fill="#3d3d3d" >-2</text>
<text transform="translate(375,219.45) scale(0.83,1)" text-anchor="end" font-family="Liberation Sans" font-size="10.8" fill="#3d3d3d" >-4</text>
<text transform="translate(375,261.52000000000004) scale(0.83,1)" text-anchor="end" font-family="Liberation Sans" font-size="10.8" fill="#3d3d3d" >-6</text>
<text transform="translate(184.8,284.7) scale(0.95,1)" text-anchor="middle" font-family="Liberation Sans" font-size="10.8" fill="#3d3d3d" >Time/hours</text>
<text transform="translate(529.6,284.7) scale(0.95,1)" text-anchor="middle" font-family="Liberation Sans" font-size="10.8" fill="#3d3d3d" >Time/hours</text>
<text transform="translate(9.1,130.7) rotate(-90) scale(0.98,1)" text-anchor="middle" font-family="Liberation Sans" font-size="10.7" fill="#3d3d3d">Angles/deg</text>
<text transform="translate(361.8,130.3) rotate(-90) scale(0.98,1)" text-anchor="middle" font-family="Liberation Sans" font-size="10.7" fill="#3d3d3d">Angles/deg</text>
<text transform="translate(182.8,309.3) scale(1.0,1)" text-anchor="middle" font-family="Liberation Serif" font-size="17" fill="#000" >a. Lyapunov</text>
<text transform="translate(529.9,309.8) scale(1.0,1)" text-anchor="middle" font-family="Liberation Serif" font-size="17" fill="#000" >b. LQR</text>
</svg>
</body></html>
